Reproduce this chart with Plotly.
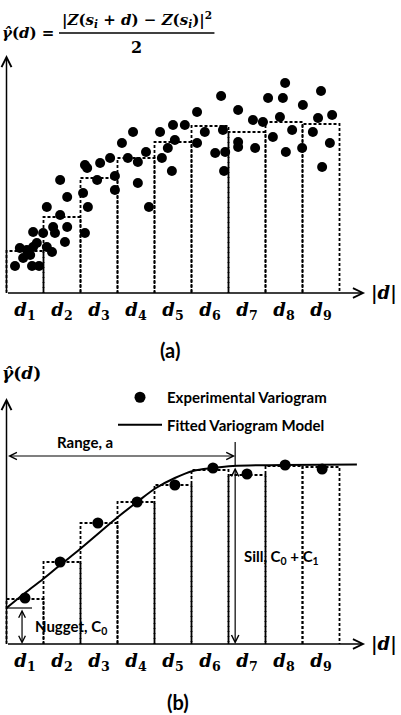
import plotly.graph_objects as go

# ---------------- data ----------------
lag_bins = [1, 2, 3, 4, 5, 6, 7, 8, 9]
tick_labels = [f"<b><i>d</i><sub>{k}</sub></b>" for k in lag_bins]
tick_pos = [k - 0.5 for k in lag_bins]

# panel (a): variogram cloud and binned means
a_cloud_x = [0.23, 0.45, 0.36, 0.55, 0.69, 0.88, 0.64, 0.72, 0.82, 0.72, 0.99, 1.09, 1.23, 1.26, 1.31,
             1.64, 1.58, 1.45, 1.09, 1.64, 1.45, 2.12, 2.07, 2.20, 2.12, 2.18, 2.45, 2.53, 2.80, 2.93,
             2.93, 3.12, 3.28, 3.42, 3.55, 3.55, 3.77, 3.85, 4.15, 4.20, 4.36, 4.47, 4.50, 4.55, 4.82,
             5.15, 5.15, 5.36, 5.64, 5.85, 5.91, 5.88, 6.26, 6.26, 6.26, 6.66, 6.72, 6.93, 7.20, 7.39,
             7.55, 7.72, 7.99, 8.01, 8.28, 8.42, 8.53, 8.74, 8.80, 5.80, 7.07, 7.47, 7.53, 8.50]
a_cloud_y = [1.35, 1.75, 2.25, 2.15, 1.35, 1.35, 1.90, 2.30, 2.50, 3.05, 3.00, 2.30, 2.05, 3.30, 3.00,
             3.30, 2.55, 3.90, 4.30, 4.80, 5.65, 3.00, 5.00, 4.30, 6.40, 6.25, 5.65, 6.50, 6.75, 5.85,
             5.15, 7.50, 6.75, 8.05, 6.55, 5.50, 7.05, 4.30, 8.05, 6.75, 7.25, 6.10, 8.40, 7.65, 8.40,
             7.50, 9.05, 8.05, 7.00, 8.15, 7.05, 6.10, 9.15, 7.55, 7.30, 8.65, 7.25, 8.55, 7.80, 8.80,
             7.05, 8.15, 7.25, 9.40, 8.05, 8.75, 6.30, 7.50, 8.90, 9.85, 9.75, 9.75, 10.50, 10.10]
a_bin_means = [2.10, 3.80, 5.75, 6.75, 7.55, 8.35, 8.05, 8.55, 8.45]

# panel (b): experimental variogram and fitted model
b_bin_means = [2.25, 4.10, 6.05, 7.10, 7.95, 8.70, 8.45, 8.90, 8.85]
b_exp_x = [0.50, 1.45, 2.47, 3.53, 4.55, 5.58, 6.50, 7.53, 8.53]
b_exp_y = [2.30, 4.10, 6.05, 7.10, 7.95, 8.80, 8.50, 8.95, 8.75]
b_model_x = [0.0, 0.50, 0.99, 1.45, 1.99, 2.53, 3.01, 3.53, 4.04, 4.55, 5.04, 5.58, 6.12, 7.47, 9.47]
b_model_y = [1.80, 2.55, 3.25, 3.95, 4.75, 5.60, 6.35, 7.10, 7.80, 8.30, 8.65, 8.80, 8.90, 8.95, 8.98]
nugget_c0 = 1.8
sill = 8.9
range_a = 6.18

# ---------------- styling constants ----------------
W, H = 401, 715
X_RANGE = [-0.1757, 10.662]
YA_RANGE = [-3.225, 14.65]
YB_RANGE = [-3.55, 14.325]
AX_END = 9.69
X_LEFT = -0.17
MATH = "DejaVu Serif"
SANS = "Lato"
DASH = "3px,2px"


def bin_path(levels):
    xs, ys = [], []
    for k, lv in zip(lag_bins, levels):
        xs += [k - 1, k - 1, k, k, None]
        ys += [0, lv, lv, 0, None]
    return xs, ys


fig = go.Figure()

# ---- panel (a)
bx, by = bin_path(a_bin_means)
fig.add_trace(go.Scatter(x=bx, y=by, mode="lines", xaxis="x", yaxis="y",
                         line=dict(color="black", width=1.8, dash=DASH),
                         showlegend=False, hoverinfo="skip"))
fig.add_trace(go.Scatter(x=a_cloud_x, y=a_cloud_y, mode="markers", xaxis="x", yaxis="y",
                         marker=dict(color="black", size=10), showlegend=False))

# ---- panel (b)
bx, by = bin_path(b_bin_means)
fig.add_trace(go.Scatter(x=bx, y=by, mode="lines", xaxis="x2", yaxis="y2",
                         line=dict(color="black", width=1.8, dash=DASH),
                         showlegend=False, hoverinfo="skip"))
fig.add_trace(go.Scatter(x=b_exp_x, y=b_exp_y, mode="markers", xaxis="x2", yaxis="y2",
                         name="<b>Experimental Variogram</b>", legendgroup="e",
                         marker=dict(color="black", size=11)))
fig.add_trace(go.Scatter(x=b_model_x, y=b_model_y, mode="lines", xaxis="x2", yaxis="y2",
                         name="<b>Fitted Variogram Model</b>", legendgroup="m",
                         line=dict(color="black", width=2, shape="spline")))

ann = []


def arrow(x0, y0, x1, y1, ax_, ay_, both=False, size=1.3, width=1.5):
    ann.append(dict(x=x1, y=y1, ax=x0, ay=y0, xref=ax_, yref=ay_, axref=ax_, ayref=ay_,
                    text="", showarrow=True, arrowhead=5, startarrowhead=5,
                    arrowside="end+start" if both else "end",
                    arrowsize=size, startarrowsize=size, arrowwidth=width, arrowcolor="black"))


# axes arrows
arrow(0, 0, AX_END, 0, "x", "y")
arrow(0, 0, 0, 11.9, "x", "y")
arrow(0, 0, AX_END, 0, "x2", "y2")
arrow(0, 0, 0, 12.3, "x2", "y2")

# range, sill and nugget arrows
arrow(0, 9.4, range_a, 9.4, "x2", "y2", both=True, size=1.2, width=1.2)
arrow(range_a, sill, range_a, 0, "x2", "y2", both=True, size=1.2, width=1.2)
arrow(0.42, nugget_c0, 0.42, 0, "x2", "y2", both=True, size=1.1, width=1.2)


def text(x, y, s, xr, yr, size, family, xanchor="left"):
    ann.append(dict(x=x, y=y, xref=xr, yref=yr, text=s, showarrow=False,
                    xanchor=xanchor, yanchor="middle",
                    font=dict(family=family, size=size, color="black")))


# formula
text(X_LEFT, 13.0, "<b><i>γ\u0302</i>(<i>d</i>) =</b>", "x", "y", 15, MATH)
text(3.52, 13.7,
     "<b>|<i>Z</i>(<i>s</i><sub><i>i</i></sub> + <i>d</i>) − <i>Z</i>(<i>s</i><sub><i>i</i></sub>)|<sup>2</sup></b>",
     "x", "y", 15, MATH, xanchor="center")
text(3.52, 12.3, "<b>2</b>", "x", "y", 16, MATH, xanchor="center")
text(9.8, 0, "<b>|<i>d</i>|</b>", "x", "y", 18, MATH)
text(4.42, -2.85, "<b>(a)</b>", "x", "y", 20, SANS, xanchor="center")

text(X_LEFT, 13.55, "<b><i>γ\u0302</i>(<i>d</i>)</b>", "x2", "y2", 17, MATH)
text(9.8, 0, "<b>|<i>d</i>|</b>", "x2", "y2", 18, MATH)
text(4.63, -2.9, "<b>(b)</b>", "x2", "y2", 20, SANS, xanchor="center")
text(1.31, 10.1, "<b>Range, a</b>", "x2", "y2", 15, SANS)
text(6.37, 4.35, "<b>Sill, C<sub>0</sub> + C<sub>1</sub></b>", "x2", "y2", 15, SANS)
text(0.71, 0.85, "<b>Nugget, C<sub>0</sub></b>", "x2", "y2", 15, SANS)

shapes = [
    dict(type="line", xref="x", yref="y", x0=1.42, x1=5.62, y0=13.0, y1=13.0,
         line=dict(color="black", width=1.5)),
    dict(type="line", xref="x2", yref="y2", x0=range_a, x1=range_a, y0=sill, y1=10.1,
         line=dict(color="black", width=1.2)),
    dict(type="line", xref="x2", yref="y2", x0=0, x1=0.69, y0=nugget_c0, y1=nugget_c0,
         line=dict(color="black", width=1.2)),
]

xcommon = dict(range=X_RANGE, showgrid=False, zeroline=False, showline=False, ticks="",
               tickmode="array", tickvals=tick_pos, ticktext=tick_labels,
               tickfont=dict(family=MATH, size=18, color="black"), domain=[0, 1],
               anchor="free", ticklabelstandoff=4)
ycommon = dict(showgrid=False, zeroline=False, showline=False, showticklabels=False, ticks="")

fig.update_layout(
    width=W, height=H, margin=dict(l=0, r=0, t=0, b=0),
    paper_bgcolor="white", plot_bgcolor="white",
    xaxis=dict(xcommon, position=1 - 293 / H),
    xaxis2=dict(xcommon, position=1 - 644 / H),
    yaxis=dict(ycommon, domain=[0.5, 1], range=YA_RANGE, anchor="x"),
    yaxis2=dict(ycommon, domain=[0, 0.5], range=YB_RANGE, anchor="x2"),
    annotations=ann, shapes=shapes,
    showlegend=True,
    legend=dict(x=113 / W, y=1 - 381 / H, xanchor="left", yanchor="top",
                bgcolor="rgba(0,0,0,0)", itemwidth=44, tracegroupgap=5,
                traceorder="grouped",
                font=dict(family=SANS, size=15, color="black")),
)

fig.write_html("out.html")
